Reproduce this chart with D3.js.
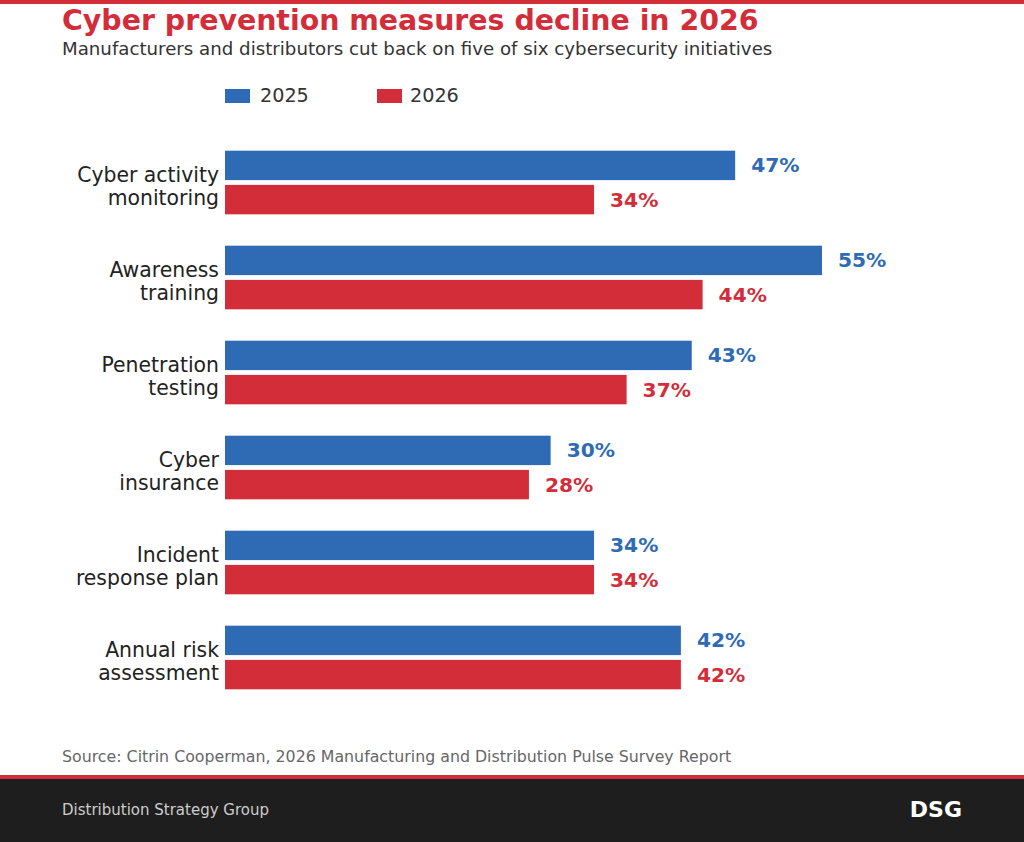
<!DOCTYPE html>
<html>
<head>
<meta charset="utf-8">
<script src="https://cdn.jsdelivr.net/npm/d3@7"></script>
<style>
  body { margin: 0; background: #fff; }
  svg { display: block; font-family: "DejaVu Sans", sans-serif; }
</style>
</head>
<body>
<svg id="chart" width="1024" height="842"></svg>
<script>
// Data
var categories = [
    ["Cyber activity", "monitoring"],
    ["Awareness", "training"],
    ["Penetration", "testing"],
    ["Cyber", "insurance"],
    ["Incident", "response plan"],
    ["Annual risk", "assessment"]
];
var years = ["2025", "2026"];
var values2025 = [47, 55, 43, 30, 34, 42];
var values2026 = [34, 44, 37, 28, 34, 42];

var BLUE = "#2f6bb5",
    RED = "#d32d3a";

var svg = d3.select("#chart"),
    W = +svg.attr("width"),
    H = +svg.attr("height");

// Top accent line
svg.append("rect").attr("x", 0).attr("y", 0).attr("width", W).attr("height", 4).attr("fill", RED);

// Title & subtitle
svg.append("text")
    .attr("x", 62).attr("y", 30)
    .attr("font-size", 28.4).attr("font-weight", "bold")
    .attr("fill", RED)
    .text("Cyber prevention measures decline in 2026");

svg.append("text")
    .attr("x", 62).attr("y", 55)
    .attr("font-size", 18.2)
    .attr("fill", "#333")
    .text("Manufacturers and distributors cut back on five of six cybersecurity initiatives");

// Legend
var legend = svg.append("g").attr("transform", "translate(225,89)");
var legendItems = legend.selectAll("g")
    .data(years)
    .enter().append("g")
    .attr("transform", function(d, i) { return "translate(" + (i * 152) + ",0)"; });
legendItems.append("rect")
    .attr("width", 25).attr("height", 14)
    .attr("fill", function(d, i) { return i === 0 ? BLUE : RED; });
legendItems.append("text")
    .attr("x", function(d, i) { return i === 0 ? 35 : 33; }).attr("y", 13)
    .attr("font-size", 19.2).attr("fill", "#333")
    .text(function(d) { return d; });

// Scales
var x = d3.scaleLinear().domain([0, 55]).range([225, 822]);
var y = d3.scaleBand()
    .domain(d3.range(categories.length))
    .range([135, 705])
    .paddingInner(0.33)
    .paddingOuter(0.165);
var sub = d3.scaleBand().domain(years).range([0, y.bandwidth()]).paddingInner(0.14);

var rows = categories.map(function(c, i) {
    return { idx: i, label: c, vals: [values2025[i], values2026[i]] };
});

var groups = svg.selectAll(".group")
    .data(rows)
    .enter().append("g")
    .attr("class", "group")
    .attr("transform", function(d) { return "translate(0," + y(d.idx) + ")"; });

// Bars
groups.selectAll("rect")
    .data(function(d) { return d.vals.map(function(v, j) { return { year: years[j], value: v, j: j }; }); })
    .enter().append("rect")
    .attr("x", x(0))
    .attr("y", function(d) { return sub(d.year); })
    .attr("width", function(d) { return x(d.value) - x(0); })
    .attr("height", sub.bandwidth())
    .attr("fill", function(d) { return d.j === 0 ? BLUE : RED; });

// Value labels
groups.selectAll(".val")
    .data(function(d) { return d.vals.map(function(v, j) { return { year: years[j], value: v, j: j }; }); })
    .enter().append("text")
    .attr("class", "val")
    .attr("x", function(d) { return x(d.value) + 16; })
    .attr("y", function(d) { return sub(d.year) + sub.bandwidth() / 2; })
    .attr("dy", "0.35em")
    .attr("font-size", 20.2).attr("font-weight", "bold")
    .attr("fill", function(d) { return d.j === 0 ? BLUE : RED; })
    .text(function(d) { return d.value + "%"; });

// Category labels (two lines)
groups.append("text")
    .attr("text-anchor", "end")
    .attr("font-size", 20.4)
    .attr("fill", "#222")
    .selectAll("tspan")
    .data(function(d) { return d.label; })
    .enter().append("tspan")
    .attr("x", 219)
    .attr("y", function(d, i) { return y.bandwidth() / 2 + (i === 0 ? 0 : 23); })
    .text(function(d) { return d; });

// Source
svg.append("text")
    .attr("x", 62).attr("y", 762)
    .attr("font-size", 15.8)
    .attr("fill", "#666")
    .text("Source: Citrin Cooperman, 2026 Manufacturing and Distribution Pulse Survey Report");

// Footer
svg.append("rect").attr("x", 0).attr("y", 775).attr("width", W).attr("height", 4).attr("fill", RED);
svg.append("rect").attr("x", 0).attr("y", 779).attr("width", W).attr("height", H - 779).attr("fill", "#1e1e1e");
svg.append("text")
    .attr("x", 62).attr("y", 815)
    .attr("font-size", 15)
    .attr("fill", "#ccc")
    .text("Distribution Strategy Group");
svg.append("text")
    .attr("x", 962).attr("y", 817)
    .attr("text-anchor", "end")
    .attr("font-size", 22).attr("font-weight", "bold")
    .attr("fill", "#fff")
    .text("DSG");
</script>
</body>
</html>
